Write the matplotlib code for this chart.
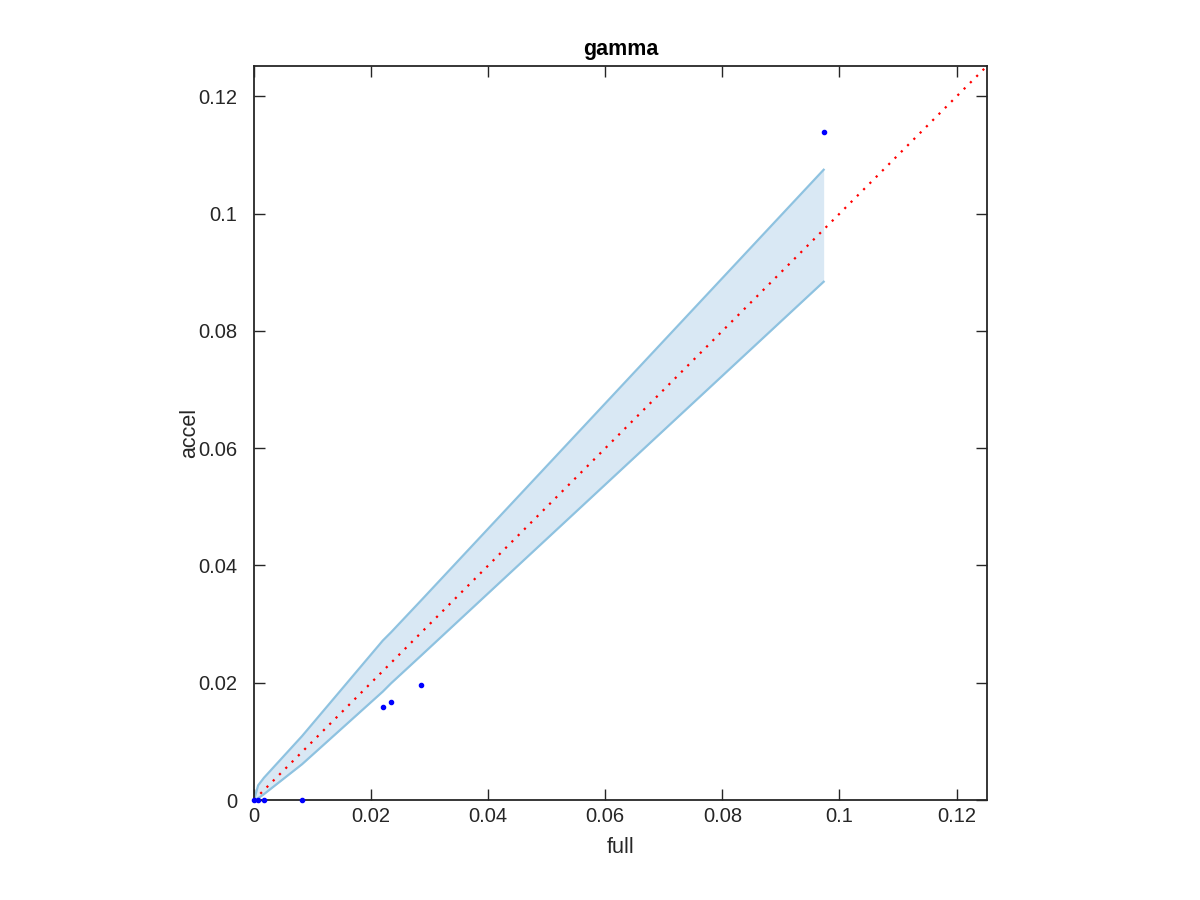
import numpy as np
import matplotlib
matplotlib.use('Agg')
import matplotlib.pyplot as plt

plt.rcParams['font.family'] = ['Liberation Sans', 'DejaVu Sans']

# scatter points (full vs accel)
full = [0.0, 0.0007, 0.0017, 0.0082, 0.02205, 0.02336, 0.02849, 0.09732]
accel = [0.0, 0.0, 0.0, 0.0, 0.01585, 0.01664, 0.01955, 0.11397]

# confidence band edges
band_x = [0.0, 0.0007, 0.0017, 0.0082, 0.0220, 0.0234, 0.0285, 0.0973]
band_hi = [0.0, 0.0025, 0.0038, 0.0109, 0.0272, 0.0286, 0.0340, 0.1075]
band_lo = [0.0, 0.0003, 0.0010, 0.0061, 0.0185, 0.0199, 0.0246, 0.0884]

lim = 0.1252
ticks = [0, 0.02, 0.04, 0.06, 0.08, 0.1, 0.12]
tick_labels = ['0', '0.02', '0.04', '0.06', '0.08', '0.1', '0.12']

fig = plt.figure(figsize=(12, 9), dpi=100)
ax = fig.add_axes([0.2117, 0.1111, 0.6108, 0.8156])

ax.fill_between(band_x, band_lo, band_hi, color='#d9e8f4', lw=0, zorder=1)
ax.plot(band_x, band_hi, color='#8ec2e0', lw=1.6, zorder=2)
ax.plot(band_x, band_lo, color='#8ec2e0', lw=1.6, zorder=2)

ax.plot([0, lim], [0, lim], color='red', lw=1.6, dashes=(1, 3), zorder=3)
ax.plot(full, accel, '.', color='blue', ms=6, zorder=4, clip_on=False)

ax.set_xlim(0, lim)
ax.set_ylim(0, lim)
ax.set_xticks(ticks)
ax.set_xticklabels(tick_labels)
ax.set_yticks(ticks)
ax.set_yticklabels(tick_labels)
ax.tick_params(direction='in', length=8, width=1, top=True, right=True,
               labelsize=14.5, colors='#262626')
ax.tick_params(axis='y', pad=12)
ax.tick_params(axis='x', pad=5)
for s in ax.spines.values():
    s.set_color('#262626')
    s.set_linewidth(1.3)

ax.set_xlabel('full', fontsize=15.5, color='#262626', labelpad=8)
ax.set_ylabel('accel', fontsize=15.5, color='#262626')
ax.yaxis.set_label_coords(-0.0737, 0.5)
ax.set_title('gamma', fontsize=15.5, fontweight='bold', pad=8)

fig.savefig('out.png', dpi=100)
